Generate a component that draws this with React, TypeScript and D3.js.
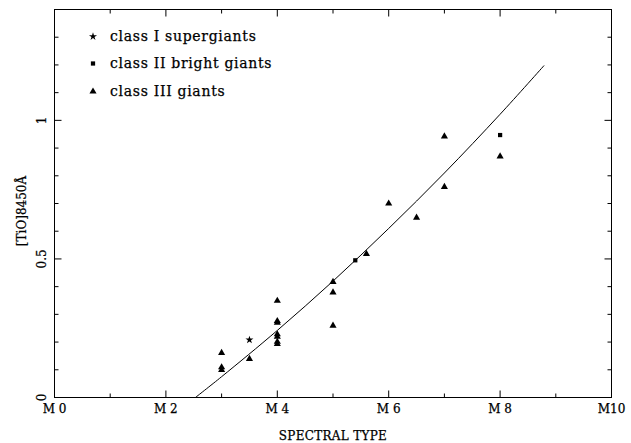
import React from "react";
import * as d3 from "d3";

// Spectral type (M subclass) and [TiO]8450 index for each star class
const supergiantsX = [3.5];
const supergiantsY = [0.208];

const brightGiantsX = [5.4, 8.0];
const brightGiantsY = [0.495, 0.947];

const giantsX = [3.0, 3.0, 3.0, 3.5, 4.0, 4.0, 4.0, 4.0, 4.0, 4.0, 4.0, 5.0, 5.0, 5.0, 5.6, 6.0, 6.5, 7.0, 7.0, 8.0];
const giantsY = [0.161, 0.109, 0.099, 0.139, 0.349, 0.276, 0.27, 0.228, 0.219, 0.201, 0.193, 0.417, 0.379, 0.259, 0.518, 0.70, 0.649, 0.76, 0.942, 0.87];

// Fitted relation
const fitX = [2.53, 3.0, 4.0, 5.0, 6.0, 7.0, 8.0, 8.79];
const fitY = [0.0, 0.075, 0.242, 0.42, 0.61, 0.81, 1.022, 1.198];

const xTickLabels = ["M 0", "M 2", "M 4", "M 6", "M 8", "M10"];
const xMajor = [0, 2, 4, 6, 8, 10];
const xMinor = [1, 3, 5, 7, 9];
const yMajor = [0, 0.5, 1];
const yTickLabels = ["0", "0.5", "1"];
const yMinor = [0.1, 0.2, 0.3, 0.4, 0.6, 0.7, 0.8, 0.9, 1.1, 1.2, 1.3];

const legendLabels = ["class I supergiants", "class II bright giants", "class III giants"];

const W = 631;
const H = 443;
const L = 54.5, R = 611.5, T = 9.5, B = 397.5;
const FONT = "'DejaVu Serif', serif";

export default function App() {
  const x = d3.scaleLinear().domain([0, 10]).range([L, R]);
  const y = d3.scaleLinear().domain([0, 1.4]).range([B, T]);

  const tri = d3.symbol().type(d3.symbolTriangle).size(22)();
  const sq = d3.symbol().type(d3.symbolSquare).size(18)();
  const star = d3.symbol().type(d3.symbolStar).size(20)();

  const line = d3
    .line<number>()
    .x((_, i) => x(fitX[i]))
    .y((d) => y(d))
    .curve(d3.curveCatmullRom.alpha(0.5));

  const tickLen = { major: 7, minor: 4 };

  const legendY = [36.5, 63.5, 91.5];
  const legendSymbols = [star, sq, tri];

  const textStyle = { stroke: "#000", strokeWidth: 0.25 };

  return (
    <svg
      width={W}
      height={H}
      style={{ position: "absolute", left: 0, top: 0, background: "#fff" }}
      fontFamily={FONT}
    >
      {/* frame */}
      <rect x={L} y={T} width={R - L} height={B - T} fill="none" stroke="#000" strokeWidth={1} />

      {/* x ticks, bottom and top */}
      {xMajor.map((v) => (
        <g key={"xM" + v}>
          <line x1={x(v)} x2={x(v)} y1={B} y2={B - tickLen.major} stroke="#000" />
          <line x1={x(v)} x2={x(v)} y1={T} y2={T + tickLen.major} stroke="#000" />
        </g>
      ))}
      {xMinor.map((v) => (
        <g key={"xm" + v}>
          <line x1={x(v)} x2={x(v)} y1={B} y2={B - tickLen.minor} stroke="#000" />
          <line x1={x(v)} x2={x(v)} y1={T} y2={T + tickLen.minor} stroke="#000" />
        </g>
      ))}
      {/* y ticks, left and right */}
      {yMajor.map((v) => (
        <g key={"yM" + v}>
          <line x1={L} x2={L + tickLen.major} y1={y(v)} y2={y(v)} stroke="#000" />
          <line x1={R} x2={R - tickLen.major} y1={y(v)} y2={y(v)} stroke="#000" />
        </g>
      ))}
      {yMinor.map((v) => (
        <g key={"ym" + v}>
          <line x1={L} x2={L + tickLen.minor} y1={y(v)} y2={y(v)} stroke="#000" />
          <line x1={R} x2={R - tickLen.minor} y1={y(v)} y2={y(v)} stroke="#000" />
        </g>
      ))}

      {/* tick labels */}
      {xMajor.map((v, i) => (
        <text key={"xl" + v} x={x(v)} y={413} fontSize={12} textAnchor="middle" fill="#000" style={textStyle}>
          {xTickLabels[i]}
        </text>
      ))}
      {yMajor.map((v, i) => (
        <text
          key={"yl" + v}
          transform={`translate(46,${y(v)}) rotate(-90)`}
          fontSize={12}
          textAnchor="middle"
          fill="#000"
          style={textStyle}
        >
          {yTickLabels[i]}
        </text>
      ))}

      {/* axis titles */}
      <text x={(L + R) / 2} y={440} fontSize={12} textAnchor="middle" fill="#000" letterSpacing={0.3} style={textStyle}>
        SPECTRAL TYPE
      </text>
      <text transform={`translate(26,211) rotate(-90)`} fontSize={12} textAnchor="middle" fill="#000" style={textStyle}>
        [TiO]8450Å
      </text>

      {/* fitted curve */}
      <path d={line(fitY) || ""} fill="none" stroke="#000" strokeWidth={1} />

      {/* data */}
      {giantsX.map((v, i) => (
        <path key={"g" + i} d={tri || ""} transform={`translate(${x(v)},${y(giantsY[i])})`} fill="#000" />
      ))}
      {brightGiantsX.map((v, i) => (
        <path key={"b" + i} d={sq || ""} transform={`translate(${x(v)},${y(brightGiantsY[i])})`} fill="#000" />
      ))}
      {supergiantsX.map((v, i) => (
        <path key={"s" + i} d={star || ""} transform={`translate(${x(v)},${y(supergiantsY[i])})`} fill="#000" />
      ))}

      {/* legend */}
      {legendLabels.map((lab, i) => (
        <g key={"lg" + i}>
          <path d={legendSymbols[i] || ""} transform={`translate(93,${legendY[i]})`} fill="#000" />
          <text x={110} y={legendY[i] + 4.5} fontSize={14} letterSpacing={0.7} fill="#000" style={textStyle}>
            {lab}
          </text>
        </g>
      ))}
    </svg>
  );
}
